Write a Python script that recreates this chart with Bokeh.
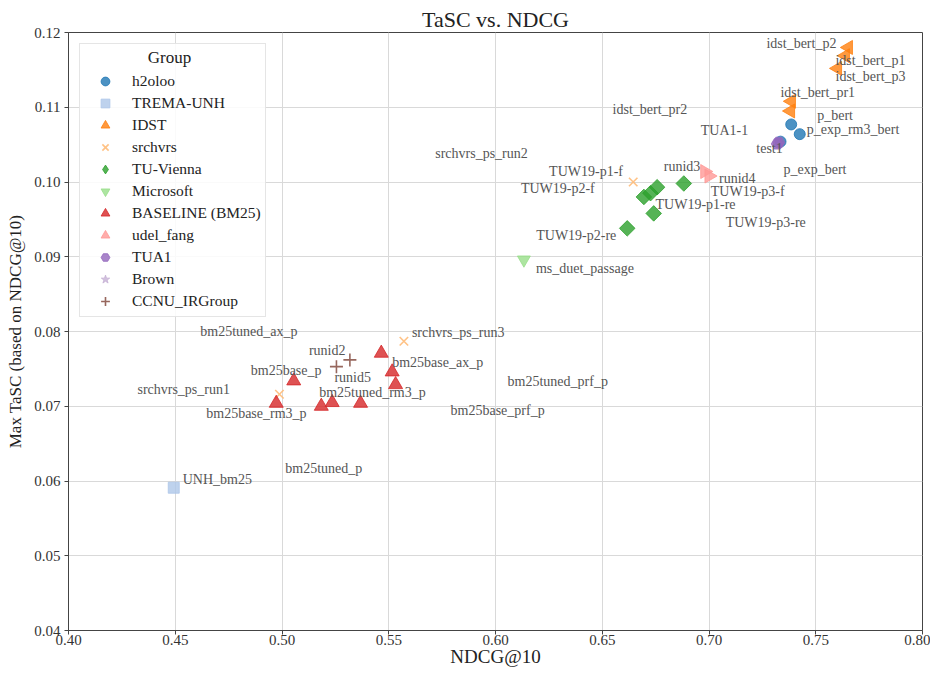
import math
import numpy as np
from bokeh.plotting import figure
from bokeh.models import ColumnDataSource, FixedTicker, NumeralTickFormatter, Legend, LegendItem
from bokeh.core.properties import value
from bokeh.embed import file_html
from bokeh.resources import INLINE

# ---------------- data ----------------
groups = ["h2oloo", "TREMA-UNH", "IDST", "srchvrs", "TU-Vienna", "Microsoft",
          "BASELINE (BM25)", "udel_fang", "TUA1", "Brown", "CCNU_IRGroup"]

run_names = ["p_bert", "p_exp_rm3_bert", "p_exp_bert",
             "UNH_bm25",
             "idst_bert_p2", "idst_bert_p1", "idst_bert_p3", "idst_bert_pr1", "idst_bert_pr2",
             "srchvrs_ps_run2", "srchvrs_ps_run3", "srchvrs_ps_run1",
             "TUW19-p3-f", "TUW19-p1-f", "TUW19-p2-f", "TUW19-p1-re", "TUW19-p3-re", "TUW19-p2-re",
             "ms_duet_passage",
             "bm25base_ax_p", "bm25tuned_ax_p", "bm25base_p", "bm25base_rm3_p",
             "bm25tuned_rm3_p", "bm25tuned_p", "bm25tuned_prf_p", "bm25base_prf_p",
             "runid3", "runid4",
             "TUA1-1", "test1",
             "runid2", "runid5"]

run_groups = ["h2oloo"] * 3 + ["TREMA-UNH"] + ["IDST"] * 5 + ["srchvrs"] * 3 + \
             ["TU-Vienna"] * 6 + ["Microsoft"] + ["BASELINE (BM25)"] * 8 + \
             ["udel_fang"] * 2 + ["TUA1"] * 2 + ["CCNU_IRGroup"] * 2

ndcg = [0.7385, 0.7425, 0.7335,
        0.4493,
        0.7653, 0.7639, 0.7602, 0.7386, 0.7382,
        0.6645, 0.5571, 0.4988,
        0.6882, 0.6757, 0.6695, 0.6726, 0.6741, 0.6617,
        0.6133,
        0.5516, 0.5465, 0.5055, 0.4973, 0.5235, 0.5184, 0.5532, 0.5368,
        0.6980, 0.7000,
        0.7327, 0.7320,
        0.5318, 0.5255]

tasc = [0.1077, 0.1064, 0.1054,
        0.0591,
        0.1180, 0.1169, 0.1152, 0.1108, 0.1095,
        0.1000, 0.0787, 0.0716,
        0.0998, 0.0993, 0.0980, 0.0985, 0.0958, 0.0938,
        0.0896,
        0.0746, 0.0771, 0.0734, 0.0704, 0.0705, 0.0700, 0.0729, 0.0704,
        0.1014, 0.1008,
        0.1053, 0.1051,
        0.0762, 0.0753]

# label placement (screen-pixel offsets from each point, left edge / middle)
label_dx = [26, 7, 3,
            9,
            -82, -10, -2, -11, -178,
            -198, 8, -142,
            27, -108, -123, 5, 72, -91,
            12,
            0, -181, -43, -70, -13, -36, 112, 90,
            -41, 10,
            -78, -21,
            -41, -2]
label_dy = [-9, -5, 28,
            -8,
            -4, 5, 8, -9, -1,
            -29, -9, -5,
            8, -16, -8, 11, 9, 7,
            9,
            -9, -22, -10, 10, -10, 62, -3, 7,
            -5, 2,
            -12, 5,
            -9, 11]

colors = {"h2oloo": "#1f77b4", "TREMA-UNH": "#aec7e8", "IDST": "#ff7f0e",
          "srchvrs": "#ffbb78", "TU-Vienna": "#2ca02c", "Microsoft": "#98df8a",
          "BASELINE (BM25)": "#d62728", "udel_fang": "#ff9896", "TUA1": "#9467bd",
          "Brown": "#c5b0d5", "CCNU_IRGroup": "#8c564b"}
markers = {"h2oloo": ("circle", 0.0, 11), "TREMA-UNH": ("square", 0.0, 11),
           "IDST": ("triangle", math.pi / 2, 14), "srchvrs": ("x", 0.0, 12),
           "TU-Vienna": ("square", math.pi / 4, 11), "Microsoft": ("inverted_triangle", 0.0, 13),
           "BASELINE (BM25)": ("triangle", 0.0, 14), "udel_fang": ("triangle", -math.pi / 2, 14),
           "TUA1": ("hex", 0.0, 12), "Brown": ("star", 0.0, 13), "CCNU_IRGroup": ("cross", 0.0, 13)}
# legend swatch marker where the legend cannot show a rotated marker
legend_markers = {"TU-Vienna": "diamond"}

x_ticks = [0.40, 0.45, 0.50, 0.55, 0.60, 0.65, 0.70, 0.75, 0.80]
y_ticks = [0.04, 0.05, 0.06, 0.07, 0.08, 0.09, 0.10, 0.11, 0.12]

FONT = "Liberation Serif"

p = figure(width=930, height=669, output_backend="svg", toolbar_location=None,
           x_range=(0.40, 0.80), y_range=(0.04, 0.12),
           title="TaSC vs. NDCG",
           min_border_left=68, min_border_right=8, min_border_top=32, min_border_bottom=20)

p.title.align = "center"
p.title.text_font = FONT
p.title.text_font_size = "22px"
p.title.text_font_style = "normal"
p.title.text_color = "#222222"
p.title.standoff = 2

for ax in (p.xaxis, p.yaxis):
    ax.major_label_text_font = FONT
    ax.major_label_text_font_size = "15px"
    ax.major_label_text_color = "#333333"
    ax.axis_label_text_font = FONT
    ax.axis_label_text_font_style = "normal"
    ax.axis_label_text_color = "#222222"
    ax.axis_line_color = "#444444"
    ax.major_tick_line_color = "#444444"
    ax.major_tick_out = 4
    ax.major_tick_in = 0
    ax.minor_tick_line_color = None
p.xaxis.axis_label_text_font_size = "19px"
p.yaxis.axis_label_text_font_size = "17px"
p.xaxis.major_label_standoff = 0
p.xaxis.axis_label_standoff = -2
p.yaxis.major_label_standoff = 4
p.yaxis.axis_label_standoff = 6
p.xaxis.axis_label = "NDCG@10"
p.yaxis.axis_label = "Max TaSC (based on NDCG@10)"
p.xaxis.ticker = FixedTicker(ticks=x_ticks)
p.yaxis.ticker = FixedTicker(ticks=y_ticks)
p.xaxis.formatter = NumeralTickFormatter(format="0.00")
p.yaxis.formatter = NumeralTickFormatter(format="0.00")

p.grid.grid_line_color = "#d9d9d9"
p.grid.grid_line_width = 1
p.outline_line_color = "#444444"
p.outline_line_width = 1

items = []
for g in groups:
    idx = [i for i, rg in enumerate(run_groups) if rg == g]
    if idx:
        xs = [ndcg[i] for i in idx]
        ys = [tasc[i] for i in idx]
    else:  # group without any run: keep a legend entry only
        xs = np.full(1, np.nan)
        ys = np.full(1, np.nan)
    src = ColumnDataSource(dict(x=xs, y=ys))
    mk, ang, sz = markers[g]
    if mk in ("x", "cross"):
        style = dict(line_color=colors[g], line_width=1.6, line_alpha=0.9)
    else:
        style = dict(fill_color=colors[g], fill_alpha=0.8,
                     line_color=colors[g], line_alpha=0.8, line_width=1)
    r = p.scatter("x", "y", source=src, marker=mk, size=sz, angle=ang, **style)
    if g in legend_markers:
        empty = ColumnDataSource(dict(x=np.full(1, np.nan), y=np.full(1, np.nan)))
        r_leg = p.scatter("x", "y", source=empty, marker=legend_markers[g], size=sz, **style)
        items.append(LegendItem(label=g, renderers=[r_leg]))
    else:
        items.append(LegendItem(label=g, renderers=[r]))

lab_src = ColumnDataSource(dict(x=ndcg, y=tasc, t=run_names, dx=label_dx, dy=label_dy))
p.text("x", "y", text="t", source=lab_src, x_offset="dx", y_offset="dy",
       text_font=value(FONT), text_font_size="14px", text_color="#555555",
       text_align="left", text_baseline="middle")

legend = Legend(items=items, location="top_left",
                title="\u00a0" * 15 + "Group")
legend.margin = 11
legend.padding = 4
legend.spacing = 0
legend.label_height = 22
legend.glyph_height = 22
legend.glyph_width = 42
legend.label_standoff = 6
legend.label_text_font = FONT
legend.label_text_font_size = "15.5px"
legend.label_text_color = "#222222"
legend.title_text_font = FONT
legend.title_text_font_size = "17px"
legend.title_text_font_style = "normal"
legend.title_text_color = "#222222"
legend.title_standoff = 2
legend.border_line_color = "#cccccc"
legend.border_line_width = 1
legend.background_fill_alpha = 0.85
p.add_layout(legend)

open("out.html", "w").write(file_html(p, INLINE))
